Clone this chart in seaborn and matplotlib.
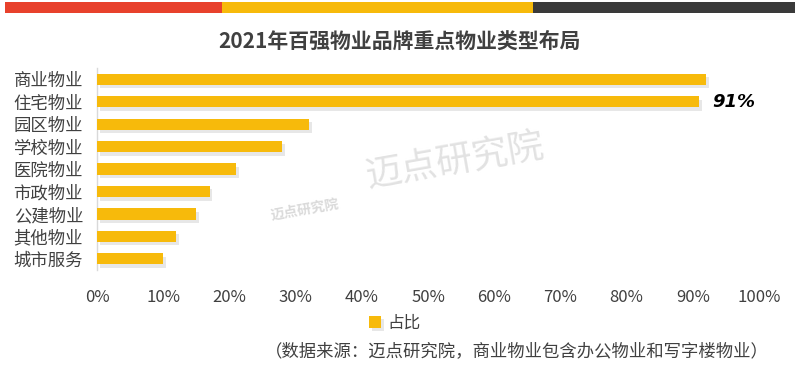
import pandas as pd
import seaborn as sns
import matplotlib.pyplot as plt
import matplotlib.patheffects as pe
from matplotlib.patches import Rectangle
from matplotlib.ticker import PercentFormatter

# data
categories = ['商业物业', '住宅物业', '园区物业', '学校物业', '医院物业',
              '市政物业', '公建物业', '其他物业', '城市服务']
shares = [92, 91, 32, 28, 21, 17, 15, 12, 10]
series_name = '占比'
x_ticks = [0, 10, 20, 30, 40, 50, 60, 70, 80, 90, 100]

title = '2021年百强物业品牌重点物业类型布局'
source_note = '（数据来源：迈点研究院，商业物业包含办公物业和写字楼物业）'

df = pd.DataFrame({'类型': categories, '值': shares, '系列': series_name})

sns.set_theme(style='white')
plt.rcParams['font.family'] = ['Noto Sans CJK SC', 'DejaVu Sans']

yellow = '#F7BA0B'
text_gray = '#404040'

fig = plt.figure(figsize=(8, 3.79), dpi=100)
fig.patch.set_facecolor('white')
ax = fig.add_axes([97 / 800, 1 - 270 / 379, (759 - 97) / 800, (270 - 68) / 379])

sns.barplot(data=df, x='值', y='类型', hue='系列', palette=[yellow],
            saturation=1, dodge=False, width=0.5, linewidth=0,
            ax=ax, zorder=3)

# soft drop shadow like the original
for p in ax.patches:
    p.set_edgecolor('none')
    p.set_path_effects([pe.SimplePatchShadow(offset=(2, -2.5), shadow_rgbFace='#d0d0d0', alpha=0.5),
                        pe.Normal()])

ax.set_xlim(0, 100)
ax.set_ylim(len(categories) - 0.5, -0.5)
ax.set_xticks(x_ticks)
ax.xaxis.set_major_formatter(PercentFormatter(decimals=0))
ax.set_xlabel('')
ax.set_ylabel('')
ax.tick_params(axis='x', labelsize=12, colors=text_gray, pad=14, length=0)
ax.tick_params(axis='y', labelsize=12.5, colors=text_gray, pad=10, length=0)
for s in ['top', 'right', 'bottom']:
    ax.spines[s].set_visible(False)
ax.spines['left'].set_color('#d9d9d9')
ax.spines['left'].set_linewidth(1)

# value label on the second bar
ax.text(shares[1] + 2, 1, f'{shares[1]}%', va='center', ha='left',
        fontsize=13, fontweight='bold', fontstyle='italic', color='black',
        family=['DejaVu Sans'])

# legend
handles, labels = ax.get_legend_handles_labels()
ax.legend(handles, labels, loc='center', bbox_to_anchor=(395 / 800, 1 - 323 / 379),
          bbox_transform=fig.transFigure, frameon=False, fontsize=12,
          handlelength=0.7, handleheight=0.7, handletextpad=0.4,
          labelcolor=text_gray)

# top colour stripe
fig.add_artist(Rectangle((5 / 800, 1 - 13 / 379), 217 / 800, 11 / 379,
                         transform=fig.transFigure, color='#E8412C', lw=0))
fig.add_artist(Rectangle((222 / 800, 1 - 13 / 379), 311 / 800, 11 / 379,
                         transform=fig.transFigure, color='#F7BA0B', lw=0))
fig.add_artist(Rectangle((533 / 800, 1 - 13 / 379), 262 / 800, 11 / 379,
                         transform=fig.transFigure, color='#3A3A3A', lw=0))

fig.text(0.5, 1 - 41 / 379, title, ha='center', va='center',
         fontsize=15, fontweight='bold', color=text_gray)

# watermark
fig.text(455 / 800, 1 - 162 / 379, '迈点研究院', ha='center', va='center',
         fontsize=26, color='#e2e2e2', rotation=10, zorder=0)
fig.text(305 / 800, 1 - 210 / 379, '迈点研究院', ha='center', va='center',
         fontsize=10, fontweight='bold', color='#dadada', rotation=10, zorder=0)

fig.text(517 / 800, 1 - 351 / 379, source_note, ha='center', va='center',
         fontsize=12.5, fontstyle='italic', color=text_gray)

fig.savefig('out.png', dpi=100, facecolor='white')
